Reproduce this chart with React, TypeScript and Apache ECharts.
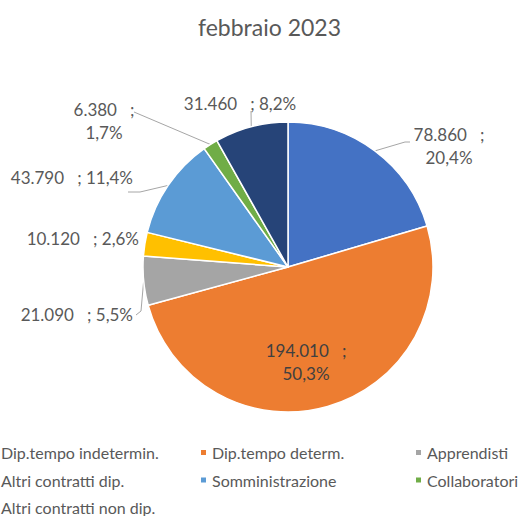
import React, { useEffect, useRef } from 'react';
import * as echarts from 'echarts';

const chartTitle = 'febbraio 2023';
const categories = [
  'Dip.tempo indetermin.',
  'Dip.tempo determ.',
  'Apprendisti',
  'Altri contratti dip.',
  'Somministrazione',
  'Collaboratori',
  'Altri contratti non dip.',
];
const values = [78860, 194010, 21090, 10120, 43790, 6380, 31460];
const colors = ['#4472C4', '#ED7D31', '#A5A5A5', '#FFC000', '#5B9BD5', '#70AD47', '#264478'];
const wrapped = [true, true, false, false, false, true, false];

// legend columns (Excel lays the legend out row-wise in 3 columns)
const legendCols = [
  [categories[0], categories[3], categories[6]],
  [categories[1], categories[4]],
  [categories[2], categories[5]],
];
const legendLefts = [-12, 199, 414];

// label placement (text anchor + leader-line bends)
const labelSpots: any[] = [
  { x: 449, y: 146, align: 'center', line: [[405, 142], [410, 142]] },
  { x: 306, y: 362, align: 'center', line: null },
  { x: 133, y: 314, align: 'right', line: [[141, 311], [136, 315]] },
  { x: 139, y: 238, align: 'right', line: null },
  { x: 133, y: 177, align: 'right', line: [[140, 192], [128, 192]] },
  { x: 104, y: 121, align: 'center', line: [[134, 112]] },
  { x: 240, y: 103, align: 'center', line: [[251, 111]] },
];

const total = values.reduce((a, b) => a + b, 0);
const fmtInt = (v: number) => String(v).replace(/\B(?=(\d{3})+(?!\d))/g, '.');
const fmtPct = (v: number) => ((v / total) * 100).toFixed(1).replace('.', ',');

const FONT = 'Lato';

export default function App() {
  const ref = useRef<HTMLDivElement>(null);
  useEffect(() => {
    if (!ref.current) return;
    const chart = echarts.init(ref.current, undefined, { renderer: 'svg' });
    const option: any = {
      animation: false,
      backgroundColor: '#ffffff',
      color: colors,
      textStyle: { fontFamily: FONT },
      title: {
        text: chartTitle,
        left: 198,
        top: 15,
        padding: 0,
        textStyle: { fontFamily: FONT, fontSize: 23, fontWeight: 'normal', color: '#595959' },
      },
      legend: legendCols.map((col, ci) => ({
        data: col,
        orient: 'vertical',
        left: legendLefts[ci],
        top: 444,
        padding: 0,
        itemGap: 10.5,
        itemWidth: 7,
        itemHeight: 7,
        icon: 'rect',
        selectedMode: false,
        textStyle: { fontFamily: FONT, fontSize: 16, lineHeight: 17, color: '#595959' },
      })),
      series: [
        {
          type: 'pie',
          center: [288, 267],
          radius: 145,
          startAngle: 90,
          clockwise: true,
          avoidLabelOverlap: false,
          itemStyle: { borderColor: '#ffffff', borderWidth: 1.5 },
          label: {
            show: true,
            position: 'outside',
            fontFamily: FONT,
            fontSize: 17,
            lineHeight: 23,
            color: '#595959',
            formatter: (p: any) => {
              const i = p.dataIndex;
              const a = fmtInt(values[i]) + '\u00a0\u00a0\u00a0;';
              const b = fmtPct(values[i]) + '%';
              return wrapped[i] ? a + '\n' + b : a + ' ' + b;
            },
          },
          labelLine: { show: true, lineStyle: { color: '#A6A6A6', width: 1 } },
          labelLayout: (p: any) => {
            const s = labelSpots[p.dataIndex];
            const r: any = { x: s.x, y: s.y, align: s.align, verticalAlign: 'middle' };
            if (s.line && p.labelLinePoints) r.labelLinePoints = [p.labelLinePoints[0], ...s.line];
            return r;
          },
          emphasis: { disabled: true },
          data: categories.map((name, i) => {
            const d: any = { name, value: values[i] };
            if (i === 1) d.label = { position: 'inside', color: '#404040' };
            if (i === 1 || i === 3) d.labelLine = { show: false };
            return d;
          }),
        },
      ],
    };
    chart.setOption(option);
    return () => chart.dispose();
  }, []);
  return (
    <div
      ref={ref}
      style={{ position: 'absolute', left: 0, top: 0, width: 519, height: 516 }}
    />
  );
}
